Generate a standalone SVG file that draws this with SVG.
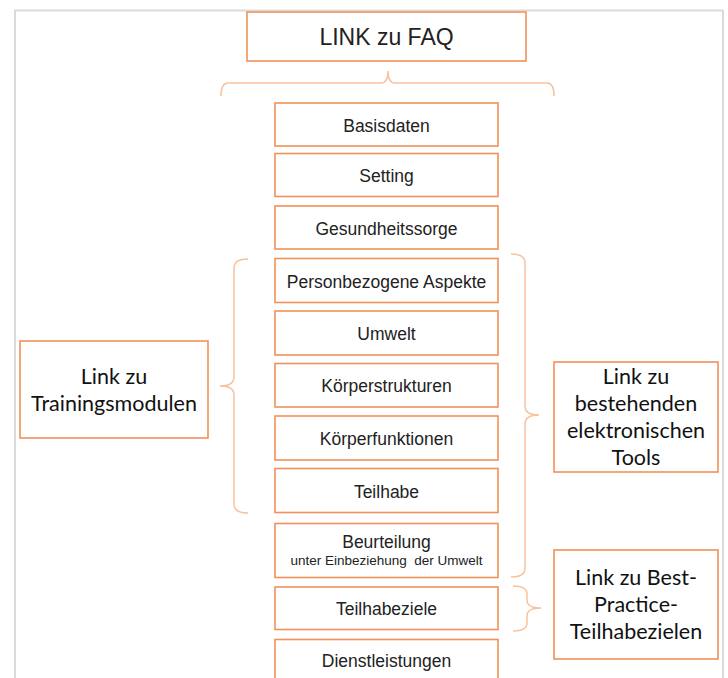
<svg xmlns="http://www.w3.org/2000/svg" width="728" height="678" viewBox="0 0 728 678">
<style>
.box{fill:#fff;stroke:#f29259;stroke-width:1.6}
.lbl{font-family:"Liberation Sans",Arial,sans-serif;font-size:17.5px;fill:#222;text-anchor:middle}
.side{font-family:Lato,"Noto Sans",sans-serif;font-size:21.5px;fill:#111;text-anchor:middle}
.brace{fill:none;stroke:#f7c29c;stroke-width:1.5}
.frame{fill:none;stroke:#dadada;stroke-width:2}
</style>
<rect width="728" height="678" fill="#fff"/>
<path class="frame" d="M15,690 V10.5 H723 V690"/>
<g id="faq"><rect class="box" x="247" y="12" width="279" height="49"/><text x="386.5" y="45" class="lbl" style="font-size:23px">LINK zu FAQ</text></g>
<g id="connectors">
<path class="brace" d="M221,96 Q221,83 228,83 H381 Q388,83 388,71 Q388,83 395,83 H547 Q554,83 554,96"/>
<path class="brace" d="M248,259 Q234,259 234,268 V377 Q234,386 220,386 Q234,386 234,395 V504 Q234,513 248,513"/>
<path class="brace" d="M511,254 Q525,254 525,263 V406 Q525,415 539,415 Q525,415 525,424 V568 Q525,577 511,577"/>
<path class="brace" d="M513,586 Q527,586 527,594 V600 Q527,608 541,608 Q527,608 527,616 V623 Q527,631 513,631"/>
</g>
<g id="basisdaten"><rect class="box" x="275" y="103" width="223" height="43"/><text x="386.5" y="131.5" class="lbl">Basisdaten</text></g>
<g id="setting"><rect class="box" x="275" y="153.5" width="223" height="43"/><text x="386.5" y="182" class="lbl">Setting</text></g>
<g id="gesundheitssorge"><rect class="box" x="275" y="206" width="223" height="43"/><text x="386.5" y="234.5" class="lbl">Gesundheitssorge</text></g>
<g id="personbezogene"><rect class="box" x="275" y="258.5" width="223" height="44"/><text x="386.5" y="287.5" class="lbl">Personbezogene Aspekte</text></g>
<g id="umwelt"><rect class="box" x="275" y="311" width="223" height="44"/><text x="386.5" y="340" class="lbl">Umwelt</text></g>
<g id="koerperstrukturen"><rect class="box" x="275" y="363.5" width="223" height="43.5"/><text x="386.5" y="392" class="lbl">Körperstrukturen</text></g>
<g id="koerperfunktionen"><rect class="box" x="275" y="416" width="223" height="44"/><text x="386.5" y="445" class="lbl">Körperfunktionen</text></g>
<g id="teilhabe"><rect class="box" x="275" y="468.5" width="223" height="44"/><text x="386.5" y="497.5" class="lbl">Teilhabe</text></g>
<g id="beurteilung"><rect class="box" x="275" y="523.5" width="223" height="54"/><text x="386.5" y="548" class="lbl">Beurteilung</text><text x="386.5" y="565" class="lbl" style="font-size:13.5px" xml:space="preserve">unter Einbeziehung  der Umwelt</text></g>
<g id="teilhabeziele"><rect class="box" x="275" y="587" width="223" height="42.5"/><text x="386.5" y="615" class="lbl">Teilhabeziele</text></g>
<g id="dienstleistungen"><rect class="box" x="275" y="639.5" width="223" height="50"/><text x="386.5" y="667" class="lbl">Dienstleistungen</text></g>
<g id="trainingsmodule"><rect class="box" x="20" y="341" width="188" height="97"/><text class="side"><tspan x="114" y="384">Link zu</tspan><tspan x="114" y="410.7">Trainingsmodulen</tspan></text></g>
<g id="tools"><rect class="box" x="554" y="362" width="164" height="110"/><text class="side"><tspan x="636" y="384">Link zu</tspan><tspan x="636" y="411">bestehenden</tspan><tspan x="636" y="438">elektronischen</tspan><tspan x="636" y="465">Tools</tspan></text></g>
<g id="bestpractice"><rect class="box" x="554" y="550" width="164" height="109"/><text class="side"><tspan x="636" y="585">Link zu Best-</tspan><tspan x="636" y="612">Practice-</tspan><tspan x="636" y="639">Teilhabezielen</tspan></text></g>
</svg>
